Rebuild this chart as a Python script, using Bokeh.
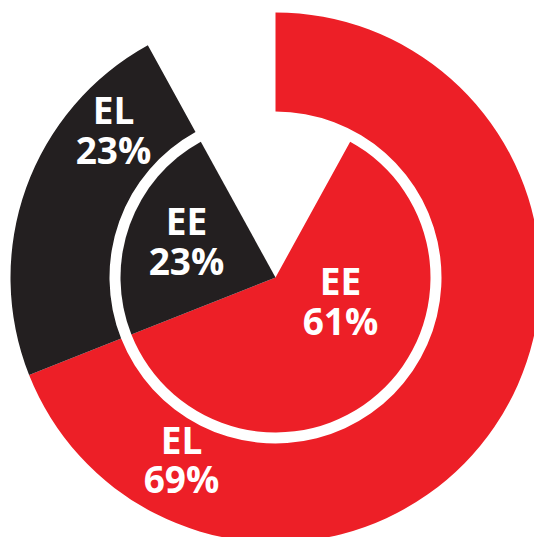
import math
from bokeh.plotting import figure
from bokeh.models import Range1d, ColumnDataSource
from bokeh.embed import file_html
from bokeh.resources import INLINE
from bokeh.core.properties import value

# Data
outer_labels = ["EL", "EL"]
outer_values = [69, 23]          # percent, remaining is gap
inner_labels = ["EE", "EE"]
inner_values = [61, 23]
colors = ["#ED1F27", "#231F20"]

W, H = 534, 537
p = figure(width=W, height=H, output_backend="svg", toolbar_location=None,
           x_range=Range1d(0, W), y_range=Range1d(-H, 0),
           min_border=0, outline_line_color=None, background_fill_color="white",
           border_fill_color="white")
p.axis.visible = False
p.grid.visible = False

cx, cy = 275, -277
R_OUT, R_OUT_IN, R_IN = 265, 166, 155

def wedges(values, start_theta):
    starts, ends = [], []
    t = start_theta
    for v in values:
        th = v * 3.6
        starts.append(math.radians(90 - t))
        ends.append(math.radians(90 - (t + th)))
        t += th
    return starts, ends

# outer ring starts at 12 o'clock
os_, oe_ = wedges(outer_values, 0.0)
src_o = ColumnDataSource(dict(x=[cx]*len(outer_values), y=[cy]*len(outer_values),
                              s=os_, e=oe_, c=colors))
p.annular_wedge(x="x", y="y", inner_radius=R_OUT_IN, outer_radius=R_OUT,
                start_angle="s", end_angle="e", direction="clock",
                fill_color="c", line_color=None, source=src_o)

# inner pie: gap centred on 12 o'clock
gap_in = 100 - sum(inner_values)
is_, ie_ = wedges(inner_values, gap_in * 3.6 / 2)
src_i = ColumnDataSource(dict(x=[cx]*len(inner_values), y=[cy]*len(inner_values),
                              s=is_, e=ie_, c=colors))
p.wedge(x="x", y="y", radius=R_IN, start_angle="s", end_angle="e",
        direction="clock", fill_color="c", line_color=None, source=src_i)

# labels
lab_pos = [
    (outer_labels[1], outer_values[1], 113, -109, -149),
    (inner_labels[1], inner_values[1], 186, -220, -260),
    (inner_labels[0], inner_values[0], 340, -280, -320),
    (outer_labels[0], outer_values[0], 181, -439, -478),
]
for name, val, x, y1, y2 in lab_pos:
    p.text(x=[x, x], y=[y1, y2], text=[name, f"{val}%"],
           text_color="white", text_font=value("Open Sans"), text_font_style="bold",
           text_font_size="37px", text_align="center", text_baseline="middle")

open("out.html", "w").write(file_html(p, INLINE))
